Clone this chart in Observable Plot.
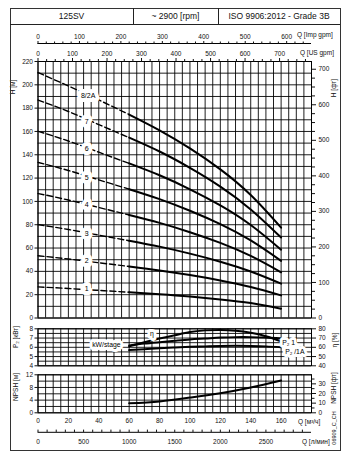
<!DOCTYPE html>
<html><head><meta charset="utf-8">
<script src="https://cdn.jsdelivr.net/npm/d3@7"></script>
<script src="https://cdn.jsdelivr.net/npm/@observablehq/plot@0.6"></script>
<style>
html,body{margin:0;padding:0;background:#fff;}
#wrap{position:relative;width:356px;height:453px;overflow:hidden;background:#fff;font-family:"Liberation Sans",Arial,sans-serif;color:#111;}
.t{position:absolute;font-size:6.5px;white-space:nowrap;line-height:1;}
.rot{transform:translate(-50%,-50%) rotate(-90deg);}
.cell{position:absolute;top:8px;height:17px;font-size:8.5px;display:flex;align-items:center;justify-content:center;box-sizing:border-box;}
</style></head>
<body><div id="wrap"></div>
<script>
// ---------- data ----------
const qHead = [0, 20, 40, 60, 80, 100, 120, 140, 160];
const head1 = [26.7, 25.3, 23.7, 22.1, 20.4, 18.4, 15.9, 12.8, 8.0];
const head2 = [53.4, 50.6, 47.4, 44.2, 40.8, 36.8, 32.2, 26.6, 19.4];
const head3 = [80.1, 75.9, 71.1, 66.3, 61.2, 55.2, 48.3, 39.9, 29.5];
const head4 = [106.8, 101.2, 94.8, 88.4, 81.6, 73.6, 64.4, 53.2, 39.2];
const head5 = [133.5, 126.5, 118.5, 110.5, 102.0, 92.0, 80.5, 66.5, 49.0];
const head6 = [160.2, 151.8, 142.2, 132.6, 122.4, 110.4, 96.6, 79.8, 58.6];
const head7 = [187.0, 177.1, 165.9, 154.7, 142.8, 128.8, 112.7, 93.1, 69.0];
const head8 = [210.5, 199.0, 187.0, 174.5, 161.0, 145.5, 127.5, 105.5, 77.5];
const curveNames = ["1", "2", "3", "4", "5", "6", "7", "8/2A"];
const dashEndQ = 60;
const labelQ = [32, 32, 32, 32, 32, 32, 32, 33];
const labelH = [25, 49, 72.5, 97.5, 120, 145, 168.5, 190.5];

const qPower = [60, 70, 80, 90, 100, 110, 120, 130, 140, 150, 160];
const etaPct = [61, 65.5, 69.5, 73, 76.5, 78.3, 78.8, 78, 75.8, 72, 66.5];
const p2Full = [6.2, 6.4, 6.55, 6.7, 6.85, 6.95, 7.05, 7.1, 7.1, 7.05, 6.95];
const p2Reduced = [5.7, 5.8, 5.9, 5.98, 6.05, 6.1, 6.15, 6.17, 6.15, 6.1, 6.0];
const powerLabels = ["kW/stage", "η", "P₂ 1", "P₂ /1A"];
const powerLabelQ = [45, 75, 165, 169];
const powerLabelP = [6.3, 7.5, 6.5, 5.5];

const qNpsh = [60, 80, 100, 120, 140, 160];
const npshM = [3.0, 3.6, 4.8, 6.2, 8.0, 10.2];

// tick labels
const hTicksM = [0, 20, 40, 60, 80, 100, 120, 140, 160, 180, 200, 220];
const hTicksFt = [0, 100, 200, 300, 400, 500, 600, 700];
const pTicks = [4, 5, 6, 7, 8];
const etaTicks = [40, 50, 60, 70, 80];
const npshTicksM = [0, 4, 8, 12];
const npshTicksFt = [0, 10, 20, 30];
const qTicksM3h = [0, 20, 40, 60, 80, 100, 120, 140, 160];
const qTicksLmin = [0, 500, 1000, 1500, 2000, 2500];
const qTicksUS = [0, 100, 200, 300, 400, 500, 600, 700];
const qTicksImp = [0, 100, 200, 300, 400, 500, 600];

// unit conversions
const US = 4.40287, IMP = 3.66615, LMIN = 16.6667, FT = 0.3048;

// ---------- layout ----------
const W = 356, ML = 37.5, MR = 45;
const font = '"Liberation Sans", Arial, sans-serif';
const st = {background: "transparent", fontFamily: font, fontSize: "6.5px", color: "#111", overflow: "visible"};
const wrap = document.getElementById("wrap");
const gridV = d3.range(0, 181, 5);
const gridStyle = {stroke: "#000", strokeOpacity: 0.88, strokeWidth: 1};
const fmt = k => d => String(Math.round(d * k));
function place(el, top) { el.style.position = "absolute"; el.style.left = "0px"; el.style.top = top + "px"; wrap.appendChild(el); }

const heads = [head1, head2, head3, head4, head5, head6, head7, head8];
const headRows = curveNames.flatMap((s, i) => qHead.map((q, j) => ({stage: s, q, h: heads[i][j]})));
const labRows = curveNames.map((s, i) => ({s, q: labelQ[i], h: labelH[i]}));
const minorOf = (step, max, major) => d3.range(0, max + 1e-9, step).filter(v => !major.includes(v));

// Panel 1: H-Q
const p1 = Plot.plot({
  width: W, height: 322, marginTop: 61, marginBottom: 4.5, marginLeft: ML, marginRight: MR,
  x: {domain: [0, 180], axis: null}, y: {domain: [0, 220], axis: null}, style: st,
  marks: [
    Plot.gridX(gridV, gridStyle),
    Plot.gridY(d3.range(0, 221, 10), gridStyle),
    Plot.frame({stroke: "#000", strokeWidth: 1}),
    Plot.axisY(hTicksM, {anchor: "left", tickSize: 3, tickPadding: 2, label: null}),
    Plot.axisY(hTicksFt.map(f => f * FT), {anchor: "right", tickSize: 4, tickPadding: 3, tickFormat: fmt(1 / FT), label: null}),
    Plot.axisY(minorOf(25, 720, hTicksFt).map(f => f * FT), {anchor: "right", tickSize: 3, tickFormat: () => "", label: null}),
    Plot.axisX(qTicksUS.map(g => g / US), {anchor: "top", tickSize: 4, tickPadding: 1.5, tickFormat: fmt(US), label: null}),
    Plot.axisX(minorOf(25, 790, qTicksUS).map(g => g / US), {anchor: "top", tickSize: 3, tickFormat: () => "", label: null}),
    Plot.ruleY([220], {dy: -18, stroke: "#000", strokeWidth: 1}),
    Plot.axisX(qTicksImp.map(g => g / IMP), {anchor: "top", dy: -18, tickSize: 3, tickPadding: 2, tickFormat: fmt(IMP), label: null}),
    Plot.axisX(minorOf(20, 655, qTicksImp).map(g => g / IMP), {anchor: "top", dy: -18, tickSize: 2.5, tickFormat: () => "", label: null}),
    Plot.line(headRows.filter(d => d.q <= dashEndQ), {x: "q", y: "h", z: "stage", stroke: "#000", strokeWidth: 1.4, strokeDasharray: "6,3", curve: "natural"}),
    Plot.line(headRows.filter(d => d.q >= dashEndQ), {x: "q", y: "h", z: "stage", stroke: "#000", strokeWidth: 2, curve: "natural"}),
    Plot.text(labRows, {x: "q", y: "h", text: "s", fill: "#000", stroke: "#fff", strokeWidth: 8, strokeLinejoin: "round", paintOrder: "stroke", fontSize: 7})
  ]
});
place(p1, 0);

// Panel 2: P2 / eta
const powerRows = qPower.map((q, i) => ({q, eta: etaPct[i], pf: p2Full[i], pr: p2Reduced[i]}));
const pLabRows = powerLabels.map((s, i) => ({s, q: powerLabelQ[i], p: powerLabelP[i]}));
const p2 = Plot.plot({
  width: W, height: 47, marginTop: 6.3, marginBottom: 3.7, marginLeft: ML, marginRight: MR,
  x: {domain: [0, 180], axis: null}, y: {domain: [4, 8], axis: null}, style: st,
  marks: [
    Plot.gridX(gridV, gridStyle),
    Plot.gridY(d3.range(4, 8.01, 0.5), gridStyle),
    Plot.frame({stroke: "#000", strokeWidth: 1}),
    Plot.axisY(pTicks, {anchor: "left", tickSize: 3, tickPadding: 2, label: null}),
    Plot.axisY(etaTicks.map(e => e / 10), {anchor: "right", tickSize: 4, tickPadding: 3, tickFormat: fmt(10), label: null}),
    Plot.line(powerRows, {x: "q", y: d => d.eta / 10, stroke: "#000", strokeWidth: 2, curve: "natural"}),
    Plot.line(powerRows, {x: "q", y: "pf", stroke: "#000", strokeWidth: 2, curve: "natural"}),
    Plot.line(powerRows, {x: "q", y: "pr", stroke: "#000", strokeWidth: 2, curve: "natural"}),
    Plot.text(pLabRows, {x: "q", y: "p", text: "s", fill: "#000", stroke: "#fff", strokeWidth: 6, strokeLinejoin: "round", paintOrder: "stroke", fontSize: 6.8})
  ]
});
place(p2, 322);

// Panel 3: NPSH
const npshRows = qNpsh.map((q, i) => ({q, n: npshM[i]}));
const p3 = Plot.plot({
  width: W, height: 84, marginTop: 5.3, marginBottom: 40.7, marginLeft: ML, marginRight: MR,
  x: {domain: [0, 180], axis: null}, y: {domain: [0, 12], axis: null}, style: st,
  marks: [
    Plot.gridX(gridV, gridStyle),
    Plot.gridY(d3.range(0, 12.01, 2), gridStyle),
    Plot.frame({stroke: "#000", strokeWidth: 1}),
    Plot.axisY(npshTicksM, {anchor: "left", tickSize: 3, tickPadding: 2, label: null}),
    Plot.axisY(npshTicksFt.map(f => f * FT), {anchor: "right", tickSize: 4, tickPadding: 3, tickFormat: fmt(1 / FT), label: null}),
    Plot.axisY([5, 15, 25, 35].map(f => f * FT), {anchor: "right", tickSize: 2.5, tickFormat: () => "", label: null}),
    Plot.axisX(qTicksM3h, {anchor: "bottom", tickSize: 0, tickPadding: 6, tickFormat: fmt(1), label: null}),
    Plot.ruleY([0], {dy: 19.5, stroke: "#000", strokeWidth: 1}),
    Plot.axisX(qTicksLmin.map(v => v / LMIN), {anchor: "bottom", dy: 17.3, tickSize: 2.4, tickPadding: 6.5, tickFormat: fmt(LMIN), label: null}),
    Plot.axisX(minorOf(100, 2950, qTicksLmin).map(v => v / LMIN), {anchor: "bottom", dy: 17.3, tickSize: 2.4, tickFormat: () => "", label: null}),
    Plot.line(npshRows, {x: "q", y: "n", stroke: "#000", strokeWidth: 2, curve: "natural"})
  ]
});
place(p3, 369);

// ---------- texts & frame ----------
function txt(s, x, y, extra) {
  const d = document.createElement("div");
  d.className = "t" + (extra && extra.rot ? " rot" : "");
  d.textContent = s;
  d.style.left = x + "px"; d.style.top = y + "px";
  if (extra && extra.size) d.style.fontSize = extra.size + "px";
  if (!(extra && extra.rot)) d.style.transform = "translateY(-50%)";
  wrap.appendChild(d);
}
txt("Q [Imp gpm]", 297, 35);
txt("Q [US gpm]", 300, 53);
txt("Q [м³/ч]", 298, 421.5);
txt("Q [л/мин]", 302, 441.5);
txt("H [м]", 13, 87, {rot: true});
txt("P₂ [кВт]", 16, 337, {rot: true});
txt("NPSH [м]", 16, 387, {rot: true});
txt("H [фт]", 334, 88, {rot: true});
txt("η [%]", 335, 340, {rot: true});
txt("NPSH [фт]", 334, 388, {rot: true});
txt("06909_C_CH", 335, 428, {rot: true, size: 5.5});

const frame = document.createElement("div");
Object.assign(frame.style, {position: "absolute", left: "10px", top: "8px", width: "331px", height: "443px", border: "1px solid #333", boxSizing: "border-box", pointerEvents: "none"});
wrap.appendChild(frame);
const cells = [["125SV", 10, 123, false], ["~ 2900 [rpm]", 132.5, 86, true], ["ISO 9906:2012 - Grade 3B", 218, 122, false]];
for (const [s, x, w, mid] of cells) {
  const c = document.createElement("div");
  c.className = "cell";
  c.textContent = s;
  Object.assign(c.style, {left: x + "px", width: w + "px", borderBottom: "1px solid #222"});
  if (mid) { c.style.borderLeft = "1px solid #222"; c.style.borderRight = "1px solid #222"; }
  wrap.appendChild(c);
}
</script></body></html>
